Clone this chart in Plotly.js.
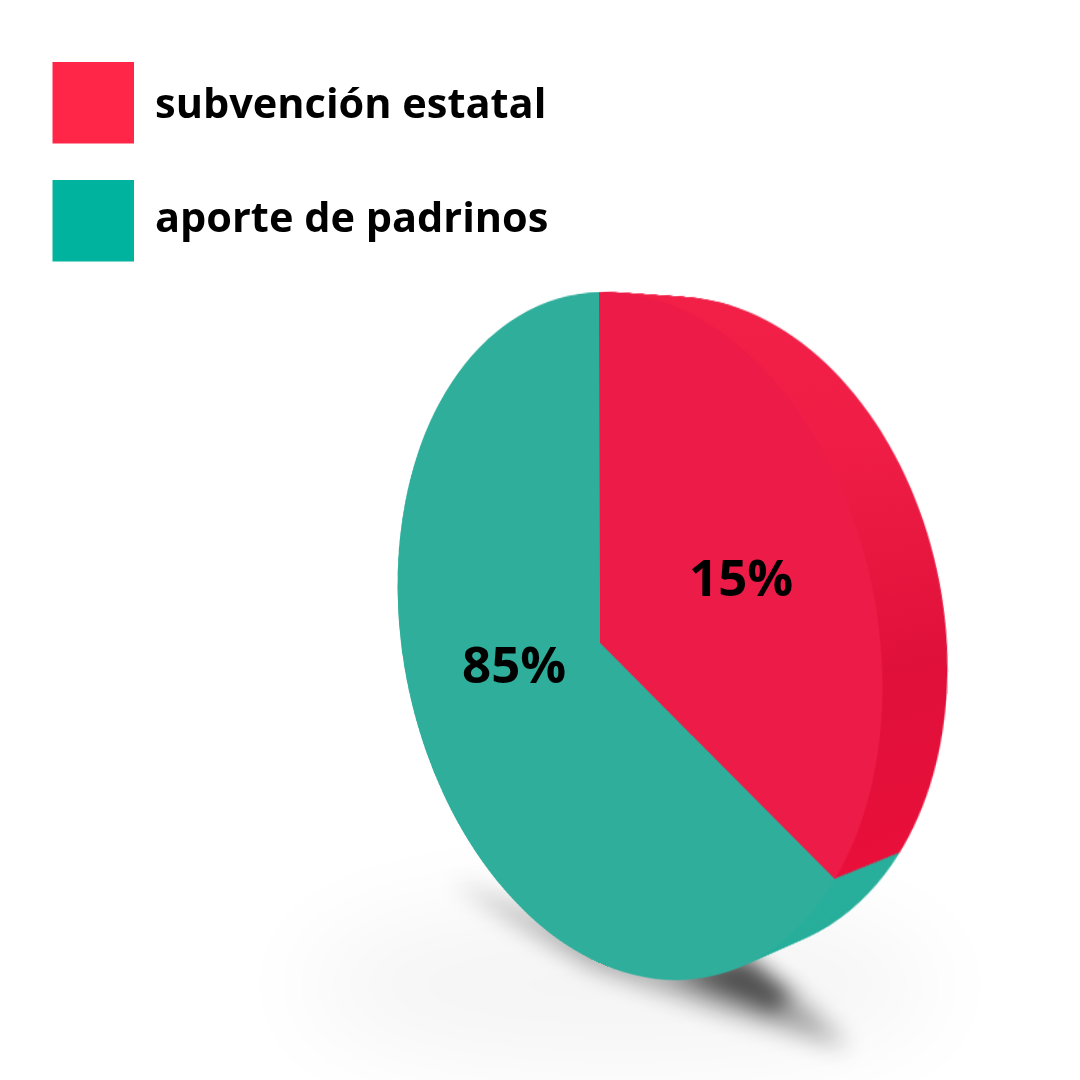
<!DOCTYPE html>
<html>
<head>
<meta charset="utf-8">
<script src="https://cdn.plot.ly/plotly-3.0.1.min.js"></script>
<style>
html,body{margin:0;padding:0;background:#fff;width:1080px;height:1080px;overflow:hidden}
#shadow,#pie,#overlay{position:absolute;left:0;top:0}
#pie{transform-origin:0 0}
</style>
</head>
<body>
<svg id="shadow" width="1080" height="1080" xmlns="http://www.w3.org/2000/svg">
  <defs>
    <linearGradient id="rimRed" x1="0" y1="0" x2="0" y2="1">
      <stop offset="0" stop-color="#F21F47"/>
      <stop offset="0.25" stop-color="#F01E46"/>
      <stop offset="0.62" stop-color="#DF103A"/>
      <stop offset="1" stop-color="#E90F3A"/>
    </linearGradient>
    <filter id="b40" x="-50%" y="-80%" width="200%" height="260%"><feGaussianBlur stdDeviation="50"/></filter>
    <filter id="b14" x="-50%" y="-50%" width="200%" height="200%"><feGaussianBlur stdDeviation="12"/></filter>
    <filter id="b7" x="-50%" y="-50%" width="200%" height="200%"><feGaussianBlur stdDeviation="10"/></filter>
  </defs>
  <ellipse cx="620" cy="985" rx="320" ry="85" fill="#000" opacity="0.04" filter="url(#b40)"/>
  <polygon points="450,880 560,925 680,975 745,960 790,990 850,1048 720,1010 590,965" fill="#000" opacity="0.36" filter="url(#b14)"/>
  <polygon points="660,968 745,955 790,995 775,1012" fill="#000" opacity="0.5" filter="url(#b7)"/>
</svg>
<div id="pie"></div>
<div id="overlay"></div>
<script>
// Legend and printed labels, as the picture states them
const categories = ['subvención estatal', 'aporte de padrinos'];
const shownPercent = [15, 85];
// Share of the disc each wedge really occupies in the picture: its 3D drawing
// does not follow the printed percentages, so the wedge is read off separately.
const drawnShare = [33.1, 66.9];
const legendColors = ['#FF2648', '#00B39F'];
const faceColors = ['#ED1B47', '#2FAE9B'];
const rimColors = ['#E81A44', '#29AF9C'];

// ---- projection of the flat pie disc onto the tilted disc of the picture ----
const W = 900, H = 900, CX = 400, CY = 450, R = 300, LAYERS = 40;
const E = [640, 636], A = [242.5, 344], TILT = 12300, APEX = [600, 643];
const l11 = A[0], l21 = TILT / A[0], l22 = Math.sqrt(A[1] * A[1] - l21 * l21);
function mul(a, b) {
  return a.map(r => [0, 1, 2].map(j => r[0] * b[0][j] + r[1] * b[1][j] + r[2] * b[2][j]));
}
function inv(m) {
  const [a, b, c] = m[0], [d, e, f] = m[1], [g, h, i] = m[2];
  const A1 = e * i - f * h, B1 = f * g - d * i, C1 = d * h - e * g, D = a * A1 + b * B1 + c * C1;
  return [[A1 / D, (c * h - b * i) / D, (b * f - c * e) / D],
          [B1 / D, (a * i - c * g) / D, (c * d - a * f) / D],
          [C1 / D, (b * g - a * h) / D, (a * e - b * d) / D]];
}
function app(m, p) {
  const w = m[2][0] * p[0] + m[2][1] * p[1] + m[2][2];
  return [(m[0][0] * p[0] + m[0][1] * p[1] + m[0][2]) / w, (m[1][0] * p[0] + m[1][1] * p[1] + m[1][2]) / w];
}
const affine = [[l11, 0, E[0]], [l21, l22, E[1]], [0, 0, 1]];
const bx = (APEX[0] - E[0]) / l11, by = (APEX[1] - E[1] - l21 * bx) / l22;
const b2 = bx * bx + by * by, g = 1 / Math.sqrt(1 - b2), k = (g - 1) / b2;
const boost = [[1 + k * bx * bx, k * bx * by, g * bx], [k * bx * by, 1 + k * by * by, g * by], [g * bx, g * by, g]];
const unit = [[1 / R, 0, -CX / R], [0, 1 / R, -CY / R], [0, 0, 1]];
const HM = mul(mul(affine, boost), unit);
const HI = inv(HM);

// back disc of the slab, in flat coordinates
const s = 0.985, EB = [705, 632];
const bp = [[EB[0] - A[0] * s, EB[1] - TILT / A[0] * s], [EB[0] + A[0] * s, EB[1] + TILT / A[0] * s],
            [EB[0] - TILT / A[1] * s, EB[1] - A[1] * s], [EB[0] + TILT / A[1] * s, EB[1] + A[1] * s]].map(p => app(HI, p));
const bxs = bp.map(p => p[0]), bys = bp.map(p => p[1]);
const bcx = (Math.min(...bxs) + Math.max(...bxs)) / 2, bcy = (Math.min(...bys) + Math.max(...bys)) / 2;
const br = (Math.max(...bxs) - Math.min(...bxs) + Math.max(...bys) - Math.min(...bys)) / 4;

const traces = [];
for (let i = 0; i <= LAYERS; i++) {
  const t = i / LAYERS, cx = bcx + (CX - bcx) * t, cy = bcy + (CY - bcy) * t, r = br + (R - br) * t;
  traces.push({
    type: 'pie', values: drawnShare, labels: categories, sort: false, direction: 'clockwise', rotation: 0,
    textinfo: 'none', hoverinfo: 'skip', showlegend: false,
    marker: {colors: i === LAYERS ? faceColors : rimColors, line: {width: 0}},
    domain: {x: [(cx - r) / W, (cx + r) / W], y: [1 - (cy + r) / H, 1 - (cy - r) / H]}
  });
}
const pieDiv = document.getElementById('pie');
pieDiv.style.transform = 'matrix3d(' + [HM[0][0], HM[1][0], 0, HM[2][0], HM[0][1], HM[1][1], 0, HM[2][1], 0, 0, 1, 0, HM[0][2], HM[1][2], 0, HM[2][2]].join(',') + ')';
Plotly.newPlot(pieDiv, traces, {
  width: W, height: H, margin: {l: 0, r: 0, t: 0, b: 0},
  paper_bgcolor: 'rgba(0,0,0,0)', plot_bgcolor: 'rgba(0,0,0,0)', showlegend: false
}, {staticPlot: true, displayModeBar: false}).then(() => {
  const groups = pieDiv.querySelectorAll('.pielayer .trace');
  groups.forEach((tr, i) => {
    if (i === groups.length - 1) return;
    const path = tr.querySelector('.slice path');
    if (path) path.style.fill = 'url(#rimRed)';
  });
});

// ---- legend and percentage labels ----
const FONT = '"Open Sans", sans-serif';
const legendTop = [62, 180];
const shapes = categories.map((c, i) => ({
  type: 'rect', xref: 'x', yref: 'y', x0: 52.5, x1: 134, y0: legendTop[i], y1: legendTop[i] + 81.5,
  fillcolor: legendColors[i], line: {width: 0}
}));
const annotations = categories.map((c, i) => ({
  xref: 'x', yref: 'y', x: 153, y: legendTop[i] + [40, 36][i], text: '<b>' + c + '</b>', showarrow: false,
  xanchor: 'left', yanchor: 'middle', font: {family: FONT, size: 41.5, color: '#000'}
}));
const labelPos = [[741, 576], [514, 663]];
shownPercent.forEach((v, i) => annotations.push({
  xref: 'x', yref: 'y', x: labelPos[i][0], y: labelPos[i][1], text: '<b>' + v + '%</b>', showarrow: false,
  xanchor: 'center', yanchor: 'middle', font: {family: FONT, size: 51, color: '#000'}
}));
Plotly.newPlot('overlay', [], {
  width: 1080, height: 1080, margin: {l: 0, r: 0, t: 0, b: 0},
  paper_bgcolor: 'rgba(0,0,0,0)', plot_bgcolor: 'rgba(0,0,0,0)', showlegend: false,
  xaxis: {range: [0, 1080], visible: false, fixedrange: true},
  yaxis: {range: [1080, 0], visible: false, fixedrange: true},
  shapes: shapes, annotations: annotations
}, {staticPlot: true, displayModeBar: false});
</script>
</body>
</html>
